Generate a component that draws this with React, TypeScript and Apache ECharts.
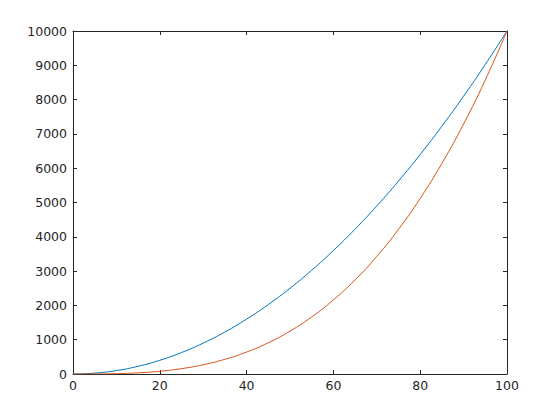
import React, { useEffect, useRef } from "react";
import * as echarts from "echarts";

const xValues = [0, 5, 10, 15, 20, 25, 30, 35, 40, 45, 50, 55, 60, 65, 70, 75, 80, 85, 90, 95, 100];
const blueValues = [0, 25, 100, 225, 400, 625, 900, 1225, 1600, 2025, 2500, 3025, 3600, 4225, 4900, 5625, 6400, 7225, 8100, 9025, 10000];
const redValues = [0, 1, 10, 34, 80, 156, 270, 429, 640, 911, 1250, 1664, 2160, 2746, 3430, 4219, 5120, 6141, 7290, 8574, 10000];

const axisColor = "#262626";
const fontFamily = "DejaVu Sans";

export default function App() {
  const ref = useRef<HTMLDivElement>(null);
  useEffect(() => {
    if (!ref.current) return;
    const chart = echarts.init(ref.current, null, { renderer: "svg" });
    const lineStyle = { color: axisColor, width: 1 };
    const baseX = {
      type: "value",
      min: 0,
      max: 100,
      interval: 20,
      splitLine: { show: false },
      axisLine: { show: true, onZero: false, lineStyle },
      axisTick: { show: true, inside: true, length: 4, lineStyle },
    };
    const baseY = {
      type: "value",
      min: 0,
      max: 10000,
      interval: 1000,
      splitLine: { show: false },
      axisLine: { show: true, onZero: false, lineStyle },
      axisTick: { show: true, inside: true, length: 4, lineStyle },
    };
    const fmt = (v: number) => String(v);
    chart.setOption({
      animation: false,
      backgroundColor: "#ffffff",
      grid: { left: 73, top: 31, right: 53, bottom: 46, containLabel: false },
      xAxis: [
        {
          ...baseX,
          position: "bottom",
          axisLabel: { color: axisColor, fontSize: 12.5, fontFamily, margin: 5, formatter: fmt },
        },
        {
          ...baseX,
          position: "top",
          axisLabel: { show: false },
        },
      ],
      yAxis: [
        {
          ...baseY,
          position: "left",
          axisLabel: { color: axisColor, fontSize: 12.5, fontFamily, margin: 6, formatter: fmt },
        },
        {
          ...baseY,
          position: "right",
          axisLabel: { show: false },
        },
      ],
      series: [
        {
          type: "line",
          xAxisIndex: 0,
          yAxisIndex: 0,
          data: xValues.map((x, i) => [x, blueValues[i]]),
          smooth: true,
          showSymbol: false,
          lineStyle: { color: "#0072BD", width: 1 },
          itemStyle: { color: "#0072BD" },
        },
        {
          type: "line",
          xAxisIndex: 0,
          yAxisIndex: 0,
          data: xValues.map((x, i) => [x, redValues[i]]),
          smooth: true,
          showSymbol: false,
          lineStyle: { color: "#D95319", width: 1 },
          itemStyle: { color: "#D95319" },
        },
      ],
    });
    return () => chart.dispose();
  }, []);
  return (
    <div
      ref={ref}
      style={{ position: "absolute", left: 0, top: 0, width: 560, height: 420 }}
    />
  );
}
